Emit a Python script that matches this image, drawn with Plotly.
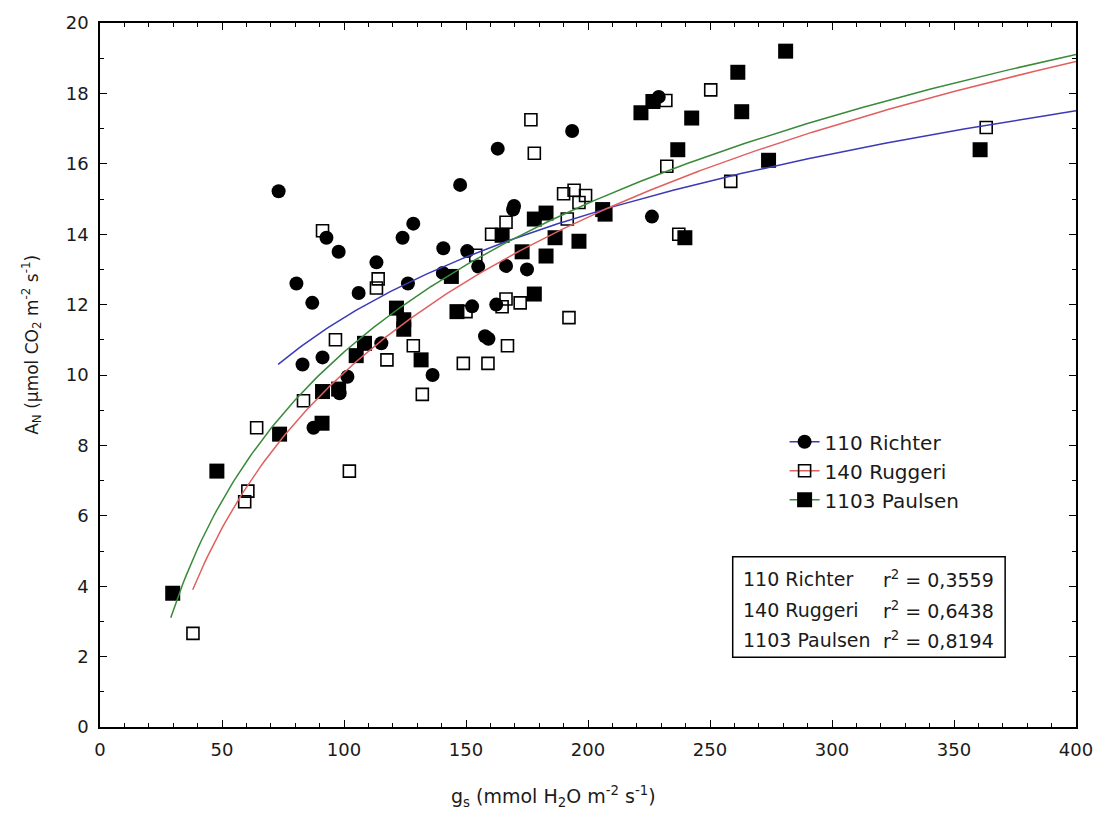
import numpy as np
import plotly.graph_objects as go

# Stomatal conductance (gs) vs net assimilation (AN) per rootstock
richter_gs = [73.2, 80.5, 83, 87, 87.5, 91.2, 92.8, 97.8, 98.2, 101.4, 106, 113.3,
              115.3, 124, 126.2, 128.4, 136.3, 140.5, 140.7, 147.6, 150.5, 152.5,
              155, 157.8, 159.2, 162.4, 163, 166.4, 169.3, 169.7, 175, 193.5, 226.2, 229]
richter_an = [15.22, 12.6, 10.3, 12.05, 8.5, 10.5, 13.9, 13.5, 9.48, 9.95, 12.33, 13.2,
              10.9, 13.9, 12.6, 14.3, 10.0, 12.9, 13.6, 15.4, 13.52, 11.95,
              13.08, 11.1, 11.03, 12.0, 16.43, 13.1, 14.7, 14.8, 13.0, 16.93, 14.5, 17.9]

ruggeri_gs = [38.1, 59.3, 60.6, 64.2, 83.4, 91.2, 96.5, 102.2, 113.3, 114, 117.6, 128.4,
              132.1, 148.9, 150, 154, 159, 160.5, 164.8, 166.4, 166.4, 167, 172.2,
              176.6, 178, 190, 191.5, 192.2, 194.3, 196.3, 199, 231.9, 232.3, 237.2,
              250.3, 258.5, 363.2]
ruggeri_an = [2.66, 6.4, 6.7, 8.5, 9.27, 14.1, 11.0, 7.27, 12.47, 12.73, 10.43, 10.83,
              9.45, 10.33, 11.8, 13.4, 10.33, 14.0, 11.94, 12.16, 14.34, 10.83, 12.05,
              17.25, 16.3, 15.15, 14.43, 11.63, 15.25, 14.9, 15.1, 17.8, 15.93, 14.0,
              18.1, 15.5, 17.03]

paulsen_gs = [29.8, 47.9, 73.6, 91, 91.2, 97.8, 105, 108.4, 121.5, 124.5, 124.5, 131.6,
              144, 146.3, 164.8, 173, 178, 178, 182.8, 182.8, 186.5, 196.3, 206, 207,
              221.7, 226.6, 236.8, 239.7, 242.5, 261.4, 263, 274, 281, 360.7]
paulsen_an = [3.8, 7.27, 8.32, 8.63, 9.53, 9.6, 10.55, 10.9, 11.9, 11.57, 11.3, 10.43,
              12.8, 11.8, 13.97, 13.5, 14.43, 12.3, 14.6, 13.38, 13.9, 13.8, 14.7, 14.57,
              17.45, 17.77, 16.4, 13.9, 17.3, 18.6, 17.48, 16.1, 19.2, 16.4]

names = ["110 Richter", "140 Ruggeri", "1103 Paulsen"]
r2_text = ["0,3559", "0,6438", "0,8194"]

# Logarithmic fits AN = a + b*ln(gs), drawn over each rootstock's gs span
fit_a = [-7.87, -19.29, -17.43]
fit_b = [4.235, 6.375, 6.098]
fit_start = [73, 38, 29]
fit_end = [400, 400, 400]

line_colors = ["#3a3ab8", "#e06060", "#3a8a3a"]
marker_styles = [
    dict(symbol="circle", size=14, color="black", line=dict(width=0)),
    dict(symbol="square-open", size=12, color="black", line=dict(width=1.6)),
    dict(symbol="square", size=15, color="black", line=dict(width=0)),
]
series = [(richter_gs, richter_an), (ruggeri_gs, ruggeri_an), (paulsen_gs, paulsen_an)]

FONT = "DejaVu Sans, Liberation Sans, Arial, sans-serif"
TXT = "#1a1a1a"

# plot-area pixel frame, used to place paper-referenced labels
L, R, T, B = 100, 1078, 20, 727


def px(x):
    return (x - L) / (R - L)


def py(y):
    return (B - y) / (B - T)


fig = go.Figure()

# legend entries (line + marker)
for i in range(3):
    fig.add_trace(go.Scatter(x=[None], y=[None], mode="lines+markers", name=names[i],
                             line=dict(color=line_colors[i], width=1.5),
                             marker=marker_styles[i], showlegend=True))

# observations
for i, (gx, ay) in enumerate(series):
    fig.add_trace(go.Scatter(x=gx, y=ay, mode="markers", marker=marker_styles[i],
                             showlegend=False, hoverinfo="x+y", name=names[i]))

# fitted curves on top of the points
for i in range(3):
    xs = np.linspace(fit_start[i], fit_end[i], 300)
    ys = fit_a[i] + fit_b[i] * np.log(xs)
    fig.add_trace(go.Scatter(x=xs, y=ys, mode="lines", showlegend=False,
                             line=dict(color=line_colors[i], width=1.5), name=names[i]))

axis_common = dict(
    showline=True, linecolor="black", linewidth=1.5, mirror="ticks",
    ticks="inside", ticklen=7, tickwidth=1.2, tickcolor="black",
    showgrid=False, zeroline=False,
    tickfont=dict(family=FONT, size=18, color=TXT),
)

fig.update_xaxes(range=[0, 400], dtick=50, tick0=0, ticklabelstandoff=6,
                 minor=dict(dtick=10, ticks="inside", ticklen=4, tickcolor="black", tickwidth=1),
                 **axis_common)
fig.update_yaxes(range=[0, 20], dtick=2, tick0=0, ticklabelstandoff=6,
                 minor=dict(dtick=1, ticks="inside", ticklen=4, tickcolor="black", tickwidth=1),
                 **axis_common)

# axis titles
fig.add_annotation(xref="paper", yref="paper", x=px(554), y=py(797),
                   xanchor="center", yanchor="middle", showarrow=False,
                   text="g<sub>s</sub> (mmol H<sub>2</sub>O m<sup>-2</sup> s<sup>-1</sup>)",
                   font=dict(family=FONT, size=19, color=TXT))
fig.add_annotation(xref="paper", yref="paper", x=px(32), y=py(343),
                   xanchor="center", yanchor="middle", showarrow=False, textangle=-90,
                   text="A<sub>N</sub> (µmol CO<sub>2</sub> m<sup>-2</sup> s<sup>-1</sup>)",
                   font=dict(family=FONT, size=17, color=TXT))

# r² summary box
fig.add_shape(type="rect", xref="paper", yref="paper",
              x0=px(734), x1=px(1007), y0=py(657), y1=py(556),
              line=dict(color="black", width=1.5), fillcolor="white", layer="above")
row_y = [578, 609, 640]
for i in range(3):
    fig.add_annotation(xref="paper", yref="paper", x=px(742), y=py(row_y[i]),
                       xanchor="left", yanchor="middle", showarrow=False,
                       text=names[i], font=dict(family=FONT, size=19, color=TXT))
    fig.add_annotation(xref="paper", yref="paper", x=px(883), y=py(row_y[i]),
                       xanchor="left", yanchor="middle", showarrow=False,
                       text="r<sup>2</sup> = " + r2_text[i],
                       font=dict(family=FONT, size=19, color=TXT))

fig.update_layout(
    width=1105, height=817,
    margin=dict(l=L, r=1105 - R, t=T, b=817 - B),
    paper_bgcolor="white", plot_bgcolor="white",
    font=dict(family=FONT, color=TXT),
    legend=dict(x=px(786), y=py(421), xanchor="left", yanchor="top",
                bgcolor="rgba(0,0,0,0)", borderwidth=0,
                font=dict(family=FONT, size=20, color=TXT), itemwidth=30),
)

fig.write_html("out.html")
